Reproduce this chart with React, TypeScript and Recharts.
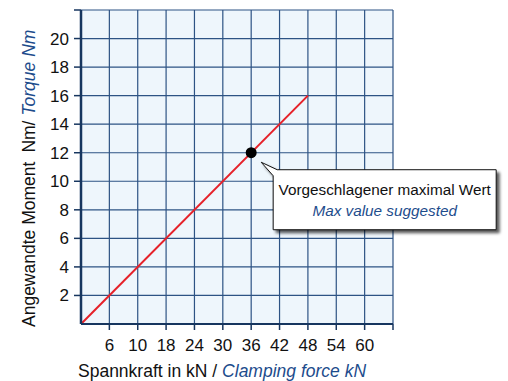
import React from 'react';
import { LineChart, Line, XAxis, YAxis, CartesianGrid, ReferenceDot, Label } from 'recharts';

const forceTicks = [6, 12, 18, 24, 30, 36, 42, 48, 54, 60, 66];
const forceTickLabels = ['6', '10', '18', '24', '30', '36', '42', '48', '54', '60', ''];
const torqueTicks = [2, 4, 6, 8, 10, 12, 14, 16, 18, 20, 22];
const torqueTickLabels = ['2', '4', '6', '8', '10', '12', '14', '16', '18', '20', ''];
const clampingForce = [0, 48];
const torqueValues = [0, 16];
const suggestedForce = 36;
const suggestedTorque = 12;

const data = clampingForce.map((x, i) => ({ x, y: torqueValues[i] }));

const FONT = "'Liberation Sans', Arial, sans-serif";
const AXIS = '#17365f';
const GRID = '#2d5384';
const BLUE = '#1d4c8c';

const YTitle = () => (
  <text transform="translate(35, 327) rotate(-90)" textAnchor="start" fontFamily={FONT} fontSize={17.5} fill="#111">
    <tspan>Angewandte Moment</tspan>
    <tspan dx={9}>Nm/</tspan>
    <tspan dx={5} fill={BLUE} fontStyle="italic">Torque Nm</tspan>
  </text>
);

const XTitle = () => (
  <text x={78} y={376.5} textAnchor="start" fontFamily={FONT} fontSize={17.5} fill="#111">
    <tspan>Spannkraft in kN /</tspan>
    <tspan dx={5} fill={BLUE} fontStyle="italic">Clamping force kN</tspan>
  </text>
);

const CalloutShape = (props: any) => {
  const { cx, cy } = props;
  const bx = cx + 22;
  const by = cy + 17;
  const w = 223;
  const h = 60;
  const path = `M${cx + 10},${cy + 9.5} L${bx + 4},${by} L${bx + w},${by} L${bx + w},${by + h} L${bx},${by + h} L${bx},${by + 6} Z`;
  return (
    <g>
      <defs>
        <filter id="calloutShadow" x="-10%" y="-20%" width="130%" height="150%">
          <feDropShadow dx="3" dy="3" stdDeviation="1.5" floodColor="#000" floodOpacity="0.65" />
        </filter>
      </defs>
      <path d={path} fill="#fff" stroke="#111" strokeWidth={1} filter="url(#calloutShadow)" />
      <text x={bx + w / 2} y={by + 25} textAnchor="middle" fontFamily={FONT} fontSize={15.3} fill="#111">
        Vorgeschlagener maximal Wert
      </text>
      <text x={bx + w / 2} y={by + 46} textAnchor="middle" fontFamily={FONT} fontSize={15.3} fill={BLUE} fontStyle="italic">
        Max value suggested
      </text>
      <circle cx={cx} cy={cy} r={5.5} fill="#000" />
    </g>
  );
};

export default function App() {
  return (
    <div style={{ position: 'absolute', left: 0, top: 0, width: 508, height: 381, background: '#fff' }}>
      <LineChart width={508} height={381} data={data} margin={{ top: 10, right: 115, bottom: 0, left: 0 }}>
        <CartesianGrid fill="#eef6fc" fillOpacity={1} stroke={GRID} strokeWidth={1.2} />
        <XAxis
          type="number"
          dataKey="x"
          domain={[0, 66]}
          ticks={forceTicks}
          interval={0}
          height={57}
          tickSize={6}
          tickMargin={9}
          tickFormatter={(v: number) => forceTickLabels[forceTicks.indexOf(v)] ?? ''}
          tick={{ fill: '#111', fontSize: 17, fontFamily: FONT }}
          axisLine={{ stroke: AXIS, strokeWidth: 2 }}
          tickLine={{ stroke: AXIS, strokeWidth: 1.5 }}
        >
          <Label content={() => <XTitle />} />
        </XAxis>
        <YAxis
          type="number"
          domain={[0, 22]}
          ticks={torqueTicks}
          interval={0}
          width={81}
          tickSize={7}
          tickMargin={5}
          tickFormatter={(v: number) => torqueTickLabels[torqueTicks.indexOf(v)] ?? ''}
          tick={{ fill: '#111', fontSize: 17, fontFamily: FONT }}
          axisLine={{ stroke: AXIS, strokeWidth: 2.5 }}
          tickLine={{ stroke: AXIS, strokeWidth: 1.5 }}
        >
          <Label content={() => <YTitle />} />
        </YAxis>
        <Line type="linear" dataKey="y" stroke="#e62129" strokeWidth={2} dot={false} activeDot={false} isAnimationActive={false} />
        <ReferenceDot x={suggestedForce} y={suggestedTorque} r={5.5} shape={CalloutShape} isAnimationActive={false} />
      </LineChart>
    </div>
  );
}
